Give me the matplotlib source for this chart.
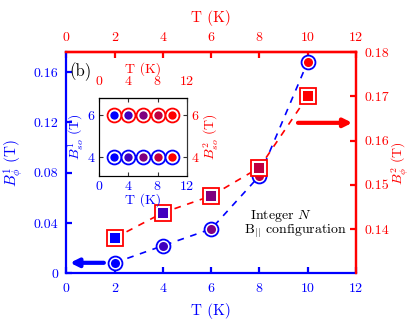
import matplotlib
matplotlib.use("Agg")
import matplotlib.pyplot as plt

plt.rcParams['font.family'] = 'serif'
plt.rcParams['font.serif'] = ['cmr10']
plt.rcParams['mathtext.fontset'] = 'cm'
plt.rcParams['axes.formatter.use_mathtext'] = True
plt.rcParams['font.size'] = 10

# data
T = [2, 4, 6, 8, 10]
b1_phi = [0.0084, 0.022, 0.0353, 0.0775, 0.168]
b2_phi = [0.138, 0.1437, 0.1475, 0.1539, 0.170]
b1_so = [4, 4, 4, 4, 4]
b2_so = [6, 6, 6, 6, 6]
colors = ['#0000ff', '#4000bf', '#800080', '#bf0040', '#ff0000']

xticks = [0, 2, 4, 6, 8, 10, 12]
left_ticks = [0, 0.04, 0.08, 0.12, 0.16]
left_labels = ['0', '0.04', '0.08', '0.12', '0.16']
right_ticks = [0.14, 0.15, 0.16, 0.17, 0.18]
inset_xticks = [0, 4, 8, 12]
inset_yticks = [4, 6]

blue = 'blue'
red = 'red'

fig = plt.figure(figsize=(4.14, 3.27), dpi=100)
ax = fig.add_axes([0.1606, 0.164, 0.699, 0.677])
ax2 = ax.twinx()

# main axes styling
ax.set_xlim(0, 12)
ax.set_ylim(0, 0.176)
ax2.set_ylim(0.13, 0.18)
ax.set_xticks(xticks)
ax.set_yticks(left_ticks)
ax.set_yticklabels(left_labels)
ax2.set_yticks(right_ticks)
ax2.set_yticklabels(['%.2f' % v for v in right_ticks])

for a in (ax, ax2):
    for s in a.spines.values():
        s.set_linewidth(1.6)
ax.spines['left'].set_color(blue)
ax.spines['bottom'].set_color(blue)
ax.spines['top'].set_color(red)
ax.spines['right'].set_color(red)
ax2.spines['left'].set_visible(False)
ax2.spines['bottom'].set_visible(False)
ax2.spines['top'].set_color(red)
ax2.spines['right'].set_color(red)

ax.tick_params(axis='both', direction='in', length=4.5, width=1.6,
               colors=blue, labelsize=10, pad=6)
ax.tick_params(axis='x', top=False)
ax2.tick_params(axis='y', direction='in', length=4.5, width=1.6,
                colors=red, labelsize=10, pad=6)

top = ax.secondary_xaxis('top')
top.set_xticks(xticks)
top.tick_params(direction='in', length=4.5, width=1.6, colors=red,
                labelsize=10, pad=6)
top.spines['top'].set_color(red)
top.spines['top'].set_linewidth(1.6)
top.set_xlabel('T (K)', color=red, fontsize=11, labelpad=6)

ax.set_xlabel('T (K)', color=blue, fontsize=11, labelpad=6)
ax.set_ylabel(r'$B^1_\phi$ (T)', color=blue, fontsize=11, labelpad=6)
ax2.set_ylabel(r'$B^2_\phi$ (T)', color=red, fontsize=10, labelpad=1)

# data
ax.plot(T, b1_phi, '--', color=blue, lw=1.2, dashes=(4, 4), zorder=2)
ax2.plot(T, b2_phi, '--', color=red, lw=1.2, dashes=(4, 4), zorder=2)
for x, y, c in zip(T, b1_phi, colors):
    ax.plot(x, y, 'o', ms=10, mfc='white', mec=blue, mew=1.3, zorder=3)
    ax.plot(x, y, 'o', ms=6.5, mfc=c, mec=c, mew=0, zorder=4)
for x, y, c in zip(T, b2_phi, colors):
    ax2.plot(x, y, 's', ms=11, mfc='white', mec=red, mew=1.3, zorder=3)
    ax2.plot(x, y, 's', ms=6.5, mfc=c, mec=c, mew=0, zorder=4)

# arrows
ax.annotate('', xy=(0.15, b1_phi[0]), xytext=(1.55, b1_phi[0]),
            arrowprops=dict(arrowstyle='-|>', lw=3, color=blue,
                            mutation_scale=12, shrinkA=0, shrinkB=0))
ax2.annotate('', xy=(11.85, 0.164), xytext=(9.6, 0.164),
             arrowprops=dict(arrowstyle='-|>', lw=3, color=red,
                             mutation_scale=12, shrinkA=0, shrinkB=0))

ax.text(0.12, 0.157, '(b)', fontsize=12, color='black')
ax.text(7.6, 0.0435, 'Integer $N$', fontsize=10)
ax.text(7.35, 0.0315, r'B$_{||}$ configuration', fontsize=10)

# inset
ins = fig.add_axes([0.2399, 0.462, 0.211, 0.238])
ins.set_zorder(5)
ins.set_xlim(0, 12)
ins.set_ylim(3.1, 6.82)
ins.set_xticks(inset_xticks)
ins.set_yticks(inset_yticks)
for s in ins.spines.values():
    s.set_linewidth(0.8)
    s.set_color('#333333')
ins.tick_params(direction='in', length=3, width=0.8, color='#333333',
                labelsize=10, pad=3)
ins.tick_params(axis='x', labelcolor=blue)
ins.tick_params(axis='y', labelcolor=blue)
ins2 = ins.twinx()
ins2.set_ylim(3.1, 6.82)
ins2.set_yticks(inset_yticks)
ins2.tick_params(direction='in', length=3, width=0.8, color='#333333',
                 labelcolor=red, labelsize=10, pad=3)
ins2.spines['right'].set_linewidth(0.8)
ins2.spines['right'].set_color('#333333')
itop = ins.secondary_xaxis('top')
itop.set_xticks(inset_xticks)
itop.tick_params(direction='in', length=3, width=0.8, color='#333333',
                 labelcolor=red, labelsize=10, pad=7)
itop.set_xlabel('T (K)', color=red, fontsize=10, labelpad=2)
ins.set_xlabel('T (K)', color=blue, fontsize=10, labelpad=0)
ins.set_ylabel(r'$B^1_{so}$ (T)', color=blue, fontsize=10, labelpad=1)
ins2.set_ylabel(r'$B^2_{so}$ (T)', color=red, fontsize=10, labelpad=1)

for x, y, c in zip(T, b1_so, colors):
    ins.plot(x, y, 'o', ms=10, mfc='white', mec=blue, mew=1.3)
    ins.plot(x, y, 'o', ms=6, mfc=c, mec=c, mew=0)
for x, y, c in zip(T, b2_so, colors):
    ins.plot(x, y, 'o', ms=10, mfc='white', mec=red, mew=1.3)
    ins.plot(x, y, 'o', ms=6, mfc=c, mec=c, mew=0)

fig.savefig('out.png', dpi=100)
